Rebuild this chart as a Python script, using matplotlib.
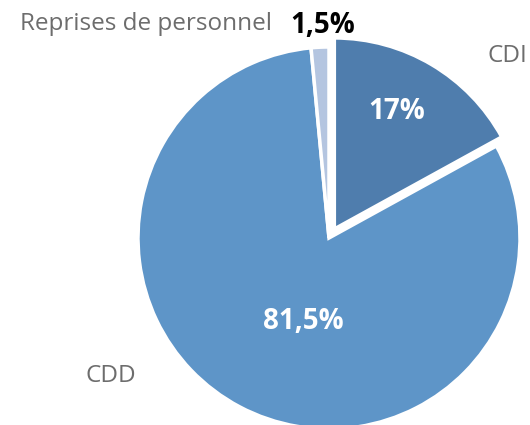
import matplotlib.pyplot as plt

labels = ['CDI', 'CDD', 'Reprises de personnel']
values = [17, 81.5, 1.5]
pct_labels = ['17%', '81,5%', '1,5%']
colors = ['#4f7dad', '#5e95c8', '#b4c5e0']

fig = plt.figure(figsize=(5.3, 4.25), dpi=100)
ax = fig.add_axes([0, 0, 1, 1])

ax.pie(values, colors=colors, startangle=90, counterclock=False,
       explode=[0.055, 0, 0], radius=1,
       wedgeprops=dict(edgecolor='white', linewidth=2.5))

ax.set_xlim(-1.7225, 1.0524)
ax.set_ylim(-0.979, 1.246)
ax.set_aspect('equal')
ax.axis('off')

font = 'Open Sans'
gray = '#6d6d6d'
# category labels
ax.text(0.932, 0.953, labels[0], ha='center', va='center', fontsize=17.5, color=gray, family=font)
ax.text(-1.141, -0.722, labels[1], ha='center', va='center', fontsize=17.5, color=gray, family=font)
ax.text(-0.298, 1.12, labels[2], ha='right', va='center', fontsize=17.5, color=gray, family=font)
# percentages
ax.text(0.353, 0.662, pct_labels[0], ha='center', va='center', fontsize=20, color='white',
        fontweight='bold', family=font)
ax.text(-0.136, -0.435, pct_labels[1], ha='center', va='center', fontsize=20, color='white',
        fontweight='bold', family=font)
ax.text(-0.034, 1.11, pct_labels[2], ha='center', va='center', fontsize=20, color='black',
        fontweight='bold', family=font)

fig.savefig('out.png', dpi=100)
